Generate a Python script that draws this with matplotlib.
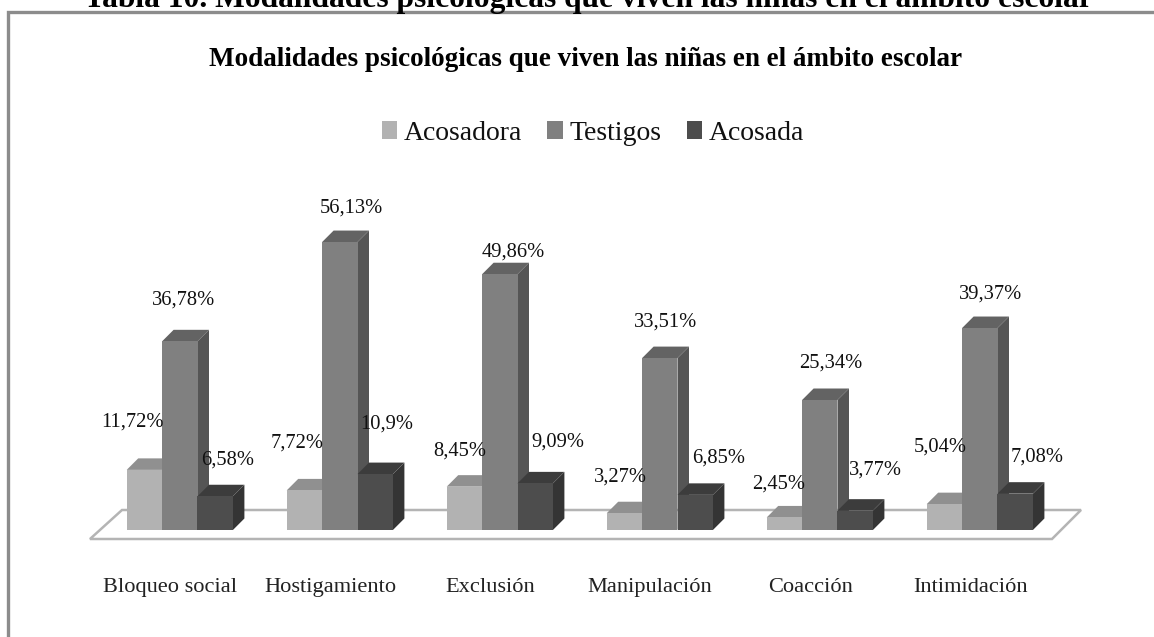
import numpy as np
import matplotlib
matplotlib.use("Agg")
import matplotlib.pyplot as plt
from matplotlib.patches import Patch, Polygon

categories = ["Bloqueo social", "Hostigamiento", "Exclusión", "Manipulación", "Coacción", "Intimidación"]
acosadora = [11.72, 7.72, 8.45, 3.27, 2.45, 5.04]
testigos = [36.78, 56.13, 49.86, 33.51, 25.34, 39.37]
acosada = [6.58, 10.9, 9.09, 6.85, 3.77, 7.08]
series_names = ["Acosadora", "Testigos", "Acosada"]
series_values = [acosadora, testigos, acosada]
label_texts = [
    ["11,72%", "7,72%", "8,45%", "3,27%", "2,45%", "5,04%"],
    ["36,78%", "56,13%", "49,86%", "33,51%", "25,34%", "39,37%"],
    ["6,58%", "10,9%", "9,09%", "6,85%", "3,77%", "7,08%"],
]
main_title = "Modalidades psicológicas que viven las niñas en el ámbito escolar"
page_title = "Tabla 10. Modalidades psicológicas que viven las niñas en el ámbito escolar"

front_colors = ["#b2b2b2", "#808080", "#4d4d4d"]
top_colors = ["#909090", "#636363", "#3c3c3c"]
side_colors = ["#8a8a8a", "#555555", "#343434"]

# label offsets from the top of each bar, in pixels
label_dx = [[-12, -7, -5, -4, -6, -4], [4, 12, 13, 6, 11, 11], [12, 12, 23, 23, 20, 22]]
label_dy = [[48, 47, 36, 36, 33, 57], [41, 34, 22, 36, 37, 34], [36, 50, 41, 37, 41, 37]]

W, H = 1154, 637
PX_PER_GROUP = 160.0
PX_PER_UNIT = 5.13
X0_PX, Y0_PX = 179.8, 530.0
BAR_W = 35.4 / PX_PER_GROUP
DX, DY = 11.5 / PX_PER_GROUP, 11.5 / PX_PER_UNIT

plt.rcParams['font.family'] = ['Liberation Serif', 'DejaVu Serif']
fig = plt.figure(figsize=(W / 100, H / 100), dpi=100, facecolor="white")
ax = fig.add_axes([0, 0, 1, 1])
ax.set_xlim(-X0_PX / PX_PER_GROUP, (W - X0_PX) / PX_PER_GROUP)
ax.set_ylim((Y0_PX - H) / PX_PER_UNIT, Y0_PX / PX_PER_UNIT)
ax.axis("off")

def px(x, y):
    return (x - X0_PX) / PX_PER_GROUP, (Y0_PX - y) / PX_PER_UNIT

# frame
ax.plot(*zip(px(8.5, H), px(8.5, 11.5), px(W, 11.5)), color="#8c8c8c", lw=2.4, solid_joinstyle="miter", zorder=1)
# floor
ax.add_patch(Polygon([px(90, 539), px(1052, 539), px(1081, 510), px(122, 510)], closed=True,
                     facecolor="white", edgecolor="#b4b4b4", lw=1.8, zorder=2))

x = np.arange(len(categories), dtype=float)
z = 3
for g in range(len(categories)):
    for s in range(3):
        v = series_values[s][g]
        left = x[g] + (s - 1.5) * BAR_W
        right = left + BAR_W
        ax.bar(left, v, BAR_W, align="edge", color=front_colors[s], zorder=z + 2)
        ax.add_patch(Polygon([(left, v), (right, v), (right + DX, v + DY), (left + DX, v + DY)],
                             closed=True, facecolor=top_colors[s], edgecolor="none", zorder=z + 1))
        ax.add_patch(Polygon([(right, 0), (right + DX, DY), (right + DX, v + DY), (right, v)],
                             closed=True, facecolor=side_colors[s], edgecolor="none", zorder=z))
        z += 3

# data labels, positioned from the bar tops
for s in range(3):
    for g in range(len(categories)):
        v = series_values[s][g]
        cx = x[g] + (s - 1) * BAR_W
        ax.annotate(label_texts[s][g], (cx, v),
                    xytext=(label_dx[s][g] * 0.72, label_dy[s][g] * 0.72), textcoords="offset points",
                    ha="center", va="center", fontsize=14.8, color="#111111", zorder=200)

# category labels
for g, c in enumerate(categories):
    ax.text(x[g] - 0.06, px(0, 592)[1], c, ha="center", va="baseline", fontsize=16.1, color="#222222", zorder=200)

fig.text(585.5 / W, 1 - 60 / H, main_title, ha="center", va="center", fontsize=19.55, fontweight="bold", color="black")
fig.text(588.5 / W, 1 - 7.5 / H, page_title, ha="center", va="baseline", fontsize=22.65, fontweight="bold", color="black")

handles = [Patch(facecolor=c, edgecolor="none") for c in front_colors]
fig.legend(handles, series_names, loc="center", bbox_to_anchor=(593 / W, 1 - 133 / H), ncol=3, frameon=False,
           fontsize=20, handlelength=0.55, handleheight=0.6, handletextpad=0.25, columnspacing=0.9,
           borderpad=0, labelcolor="#111111")

fig.savefig("out.png", dpi=100)
